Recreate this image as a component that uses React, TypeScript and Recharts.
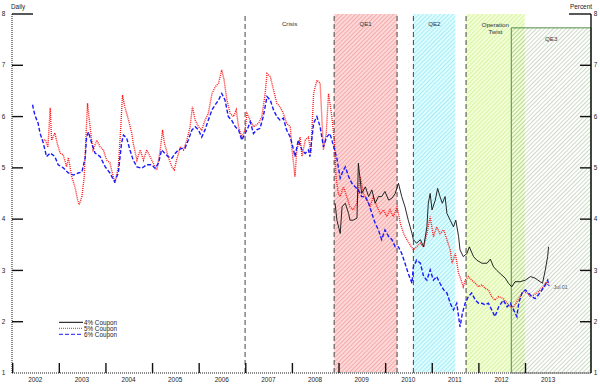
import React from 'react';
import {
  ComposedChart,
  Line,
  XAxis,
  YAxis,
  ReferenceArea,
  ReferenceLine,
  ReferenceDot,
} from 'recharts';

const FONT = '"Liberation Sans", Arial, sans-serif';

// axis setup (decimal years on x, percent on y)
const X_MIN = 2002;
const X_MAX = 2014.42;
const yearTicks = [2002, 2003, 2004, 2005, 2006, 2007, 2008, 2009, 2010, 2011, 2012, 2013];
const rateTicks = [1, 2, 3, 4, 5, 6, 7, 8];

// 6% coupon
const sixDates = [
  2002.44, 2002.49, 2002.56, 2002.6, 2002.67, 2002.74, 2002.82, 2002.92, 2002.99, 2003.1,
  2003.21, 2003.32, 2003.42, 2003.5, 2003.57, 2003.6, 2003.64, 2003.71, 2003.78, 2003.89,
  2004.0, 2004.1, 2004.2, 2004.28, 2004.35, 2004.39, 2004.46, 2004.53, 2004.6, 2004.68,
  2004.78, 2004.89, 2005.0, 2005.07, 2005.14, 2005.21, 2005.28, 2005.35, 2005.43, 2005.5,
  2005.57, 2005.64, 2005.71, 2005.78, 2005.86, 2005.93, 2006.0, 2006.07, 2006.14, 2006.21,
  2006.29, 2006.36, 2006.43, 2006.5, 2006.57, 2006.64, 2006.71, 2006.79, 2006.86, 2006.93,
  2007.0, 2007.07, 2007.11, 2007.18, 2007.25, 2007.32, 2007.39, 2007.47, 2007.54, 2007.61,
  2007.68, 2007.75, 2007.82, 2007.89, 2007.97, 2008.04, 2008.07, 2008.14, 2008.22, 2008.29,
  2008.36, 2008.39, 2008.47, 2008.54, 2008.61, 2008.68, 2008.75, 2008.82, 2008.89, 2008.97,
  2009.04, 2009.11, 2009.15, 2009.22, 2009.29, 2009.36, 2009.43, 2009.5, 2009.58, 2009.65,
  2009.72, 2009.79, 2009.86, 2009.93, 2010.0, 2010.08, 2010.15, 2010.22, 2010.29, 2010.36,
  2010.43, 2010.5, 2010.58, 2010.61, 2010.68, 2010.76, 2010.83, 2010.9, 2010.97, 2011.04,
  2011.11, 2011.18, 2011.26, 2011.33, 2011.4, 2011.47, 2011.54, 2011.61, 2011.66, 2011.72,
  2011.79, 2011.86, 2011.94, 2012.01, 2012.08, 2012.15, 2012.22, 2012.29, 2012.36, 2012.44,
  2012.54, 2012.62, 2012.69, 2012.76, 2012.83, 2012.87, 2012.94, 2013.01, 2013.08, 2013.15,
  2013.22, 2013.29, 2013.37, 2013.44, 2013.49, 2013.52,
];
const sixRates = [
  6.23, 6.03, 5.87, 5.68, 5.49, 5.22, 5.29, 5.22, 5.06, 5.0,
  4.9, 4.86, 4.9, 4.92, 5.2, 5.6, 5.7, 5.48, 5.29, 5.22,
  5.02, 4.9, 4.73, 4.9, 5.48, 5.64, 5.58, 5.35, 5.15, 5.02,
  4.99, 5.06, 5.06, 4.99, 5.09, 5.35, 5.28, 5.22, 5.19, 5.28,
  5.35, 5.38, 5.38, 5.54, 5.74, 5.8, 5.74, 5.6, 5.74, 5.93,
  6.13, 6.23, 6.32, 6.45, 6.32, 6.0, 5.93, 5.8, 5.74, 5.54,
  5.67, 5.8, 5.9, 5.67, 5.74, 5.77, 6.0, 6.39, 6.32, 6.13,
  6.0, 5.93, 5.97, 5.74, 5.6, 5.35, 5.22, 5.54, 5.35, 5.28,
  5.35, 5.22, 5.87, 6.0, 5.8, 5.41, 5.6, 5.67, 5.45, 5.18,
  4.8, 4.96, 5.02, 4.83, 4.7, 4.63, 4.57, 4.44, 4.44, 4.31,
  4.11, 3.92, 3.79, 3.6, 3.79, 3.66, 3.6, 3.46, 3.46, 3.33,
  3.14, 2.94, 2.75, 3.07, 3.2, 3.14, 2.88, 2.81, 3.01, 2.81,
  2.88, 2.75, 2.62, 2.56, 2.36, 2.23, 2.36, 1.9, 2.16, 2.36,
  2.49, 2.56, 2.42, 2.36, 2.36, 2.33, 2.36, 2.23, 2.1, 2.29,
  2.42, 2.29, 2.36, 2.23, 2.1, 2.36, 2.56, 2.62, 2.56, 2.49,
  2.45, 2.52, 2.62, 2.72, 2.81, 2.7,
];

// 5% coupon
const fiveDates = [
  2002.64, 2002.72, 2002.77, 2002.82, 2002.85, 2002.92, 2002.97, 2003.03, 2003.1, 2003.17,
  2003.21, 2003.28, 2003.35, 2003.41, 2003.44, 2003.5, 2003.55, 2003.59, 2003.62, 2003.65,
  2003.7, 2003.74, 2003.82, 2003.89, 2003.96, 2004.03, 2004.1, 2004.17, 2004.21, 2004.28,
  2004.33, 2004.37, 2004.42, 2004.5, 2004.57, 2004.6, 2004.68, 2004.75, 2004.82, 2004.89,
  2004.96, 2005.03, 2005.11, 2005.18, 2005.23, 2005.27, 2005.35, 2005.43, 2005.48, 2005.53,
  2005.61, 2005.68, 2005.75, 2005.82, 2005.87, 2005.93, 2006.0, 2006.07, 2006.14, 2006.21,
  2006.29, 2006.36, 2006.43, 2006.5, 2006.55, 2006.61, 2006.68, 2006.75, 2006.81, 2006.86,
  2006.93, 2007.0, 2007.04, 2007.11, 2007.18, 2007.29, 2007.36, 2007.43, 2007.47, 2007.54,
  2007.61, 2007.68, 2007.75, 2007.82, 2007.89, 2007.97, 2008.0, 2008.07, 2008.11, 2008.18,
  2008.22, 2008.29, 2008.36, 2008.41, 2008.47, 2008.54, 2008.61, 2008.68, 2008.74, 2008.79,
  2008.86, 2008.92, 2008.95, 2009.0, 2009.04, 2009.11, 2009.18, 2009.25, 2009.32, 2009.4,
  2009.47, 2009.54, 2009.61, 2009.68, 2009.75, 2009.83, 2009.9, 2009.97, 2010.04, 2010.11,
  2010.18, 2010.26, 2010.33, 2010.4, 2010.47, 2010.54, 2010.61, 2010.68, 2010.76, 2010.83,
  2010.9, 2010.97, 2011.04, 2011.11, 2011.18, 2011.26, 2011.33, 2011.4, 2011.44, 2011.51,
  2011.58, 2011.61, 2011.68, 2011.72, 2011.79, 2011.86, 2011.94, 2012.01, 2012.08, 2012.15,
  2012.22, 2012.29, 2012.36, 2012.44, 2012.54, 2012.62, 2012.69, 2012.76, 2012.83, 2012.9,
  2012.97, 2013.05, 2013.12, 2013.19, 2013.26, 2013.33, 2013.4, 2013.47, 2013.51,
];
const fiveRates = [
  5.55, 5.54, 5.4, 6.17, 5.54, 5.68, 5.48, 5.29, 5.25, 5.02,
  5.2, 4.83, 4.63, 4.37, 4.28, 4.44, 4.83, 5.67, 6.26, 6.0,
  5.6, 5.35, 5.54, 5.41, 5.35, 5.15, 5.1, 4.83, 4.7, 5.02,
  5.74, 6.42, 6.19, 5.93, 5.67, 5.48, 5.15, 5.35, 5.15, 5.35,
  5.22, 5.09, 4.96, 5.35, 5.74, 5.48, 5.22, 5.02, 4.96, 5.15,
  5.41, 5.35, 5.54, 5.8, 6.19, 5.93, 5.8, 5.74, 5.93, 6.06,
  6.45, 6.58, 6.65, 6.91, 6.71, 6.32, 6.06, 6.0, 6.13, 5.8,
  5.6, 5.74, 6.06, 5.93, 5.8, 5.87, 6.0, 6.45, 6.84, 6.78,
  6.52, 6.26, 6.19, 6.06, 5.87, 5.8, 5.41, 4.83, 5.35, 5.6,
  5.22, 5.54, 5.6, 5.28, 6.45, 6.71, 6.65, 5.35, 5.67, 6.45,
  6.0, 5.48, 4.83, 4.5, 4.44, 4.63, 4.44, 4.24, 4.18, 4.31,
  4.83, 4.5, 4.37, 4.24, 4.44, 4.24, 4.11, 4.18, 4.05, 4.18,
  4.05, 4.24, 3.92, 3.72, 3.6, 3.5, 3.4, 3.46, 3.53, 3.46,
  3.72, 4.05, 3.66, 3.85, 3.72, 3.79, 3.6, 3.4, 3.14, 3.33,
  2.94, 2.88, 2.68, 2.81, 2.88, 2.81, 2.75, 2.68, 2.72, 2.65,
  2.62, 2.49, 2.42, 2.49, 2.45, 2.36, 2.29, 2.29, 2.39, 2.49,
  2.59, 2.56, 2.49, 2.52, 2.56, 2.62, 2.68, 2.78, 2.7,
];

// 4% coupon
const fourDates = [
  2008.93, 2008.97, 2009.04, 2009.08, 2009.15, 2009.22, 2009.25, 2009.32, 2009.4, 2009.43,
  2009.5, 2009.58, 2009.65, 2009.72, 2009.79, 2009.86, 2009.93, 2010.0, 2010.08, 2010.15,
  2010.22, 2010.29, 2010.36, 2010.43, 2010.5, 2010.58, 2010.61, 2010.68, 2010.76, 2010.83,
  2010.9, 2010.93, 2010.97, 2011.01, 2011.08, 2011.13, 2011.18, 2011.23, 2011.29, 2011.33,
  2011.4, 2011.47, 2011.52, 2011.58, 2011.61, 2011.68, 2011.76, 2011.81, 2011.9, 2011.97,
  2012.08, 2012.19, 2012.26, 2012.33, 2012.4, 2012.47, 2012.58, 2012.65, 2012.72, 2012.79,
  2012.9, 2013.01, 2013.12, 2013.22, 2013.33, 2013.38, 2013.44, 2013.49, 2013.51,
];
const fourRates = [
  4.31, 3.98, 3.72, 4.24, 4.31, 4.11, 3.98, 3.98, 4.02, 5.09,
  4.5, 4.63, 4.44, 4.57, 4.31, 4.44, 4.44, 4.54, 4.37, 4.41,
  4.5, 4.7, 4.44, 4.24, 3.98, 3.72, 3.6, 3.53, 3.6, 3.46,
  3.85, 4.31, 4.5, 4.18, 4.37, 4.6, 4.44, 4.31, 4.44, 4.11,
  3.98, 3.85, 3.98, 3.66, 3.4, 3.27, 3.33, 3.46, 3.27, 3.2,
  3.14, 3.14, 3.22, 3.07, 3.0, 2.94, 2.85, 2.75, 2.68, 2.78,
  2.78, 2.81, 2.88, 2.85, 2.78, 2.75, 3.01, 3.27, 3.46,
];

// policy episodes (decimal years)
const crisisStart = 2007.0;
const qe1 = [2008.91, 2010.26];
const qe2 = [2010.61, 2011.51];
const twist = [2011.74, 2013.0];
const qe3 = [2012.71, X_MAX];
const qe3Top = 7.73;
const lastDate = 2013.51;
const lastLabelRate = 2.68;

const toPoints = (dates: number[], rates: number[]) =>
  dates.map((t, i) => ({ t, v: rates[i] }));

const fourData = toPoints(fourDates, fourRates);
const fiveData = toPoints(fiveDates, fiveRates);
const sixData = toPoints(sixDates, sixRates);

const W = 600;
const H = 384;
const M_TOP = 14;
const LEFT_W = 12;
const RIGHT_W = 9;
const X_AXIS_H = 11;
const HALF_YEAR_PX = (W - LEFT_W - RIGHT_W) / (X_MAX - X_MIN) / 2;

const YearTick = ({ x, y, payload }: any) => (
  <g>
    <line x1={x + 0.7} y1={y} x2={x + 0.7} y2={y - 10} stroke="#111" strokeWidth={1.4} />
    <text
      x={x + HALF_YEAR_PX}
      y={y + 9}
      textAnchor="middle"
      fontSize={6.4}
      fontFamily={FONT}
      fill="#222"
    >
      {payload.value}
    </text>
  </g>
);

const LeftTick = ({ x, y, payload }: any) => (
  <g>
    {payload.value !== 1 && (
      <line x1={x} y1={y} x2={x + (payload.value === 8 ? 21 : 11)} y2={y} stroke="#111" strokeWidth={1.4} />
    )}
    <text x={x - 8.5} y={y} dy={2.2} textAnchor="middle" fontSize={6.4} fontFamily={FONT} fill="#222">
      {payload.value}
    </text>
  </g>
);

const RightTick = ({ x, y, payload }: any) => (
  <g>
    {payload.value !== 1 && (
      <line x1={x - (payload.value === 8 ? 22 : 11)} y1={y} x2={x} y2={y} stroke="#111" strokeWidth={1.4} />
    )}
    <text x={x + 4.5} y={y} dy={2.2} textAnchor="middle" fontSize={6.4} fontFamily={FONT} fill="#222">
      {payload.value}
    </text>
  </g>
);

const regionLabel = (lines: string[], dy: number) => (props: any) => {
  const { x, y, width } = props.viewBox;
  const cx = x + width / 2;
  return (
    <text x={cx} y={y + dy} textAnchor="middle" fontSize={6.2} fontFamily={FONT} fill="#333">
      {lines.map((l, i) => (
        <tspan key={l} x={cx} dy={i === 0 ? 0 : 7}>
          {l}
        </tspan>
      ))}
    </text>
  );
};

const hatch = (id: string, bg: string, line: string) => (
  <pattern id={id} width="3" height="3" patternUnits="userSpaceOnUse" patternTransform="rotate(45)">
    <rect width="3" height="3" fill={bg} />
    <line x1="0" y1="0" x2="0" y2="3" stroke={line} strokeWidth="1.2" />
  </pattern>
);

const legendItems = [
  { name: '4% Coupon', color: '#000000', dash: undefined },
  { name: '5% Coupon', color: '#ff1a1a', dash: '1 1' },
  { name: '6% Coupon', color: '#1a1aff', dash: '4 2' },
];

const App: React.FC = () => {
  const dashed = { stroke: '#444', strokeDasharray: '5 3', strokeWidth: 1 };

  return (
    <div style={{ position: 'relative', width: W, height: H, background: '#fff' }}>
      <style>{'body{margin:0}'}</style>
      <ComposedChart width={W} height={H} margin={{ top: M_TOP, right: 0, bottom: 0, left: 0 }}>
        <defs>
          {hatch('hQE1', '#fcd9d9', '#f28b8b')}
          {hatch('hQE2', '#dffcff', '#82e4ef')}
          {hatch('hTwist', '#f3ffd8', '#c8ec80')}
          <pattern id="hQE3" width="3" height="3" patternUnits="userSpaceOnUse" patternTransform="rotate(45)">
            <line x1="0" y1="0" x2="0" y2="3" stroke="#a3bb98" strokeWidth="1.1" />
          </pattern>
        </defs>

        <XAxis
          dataKey="t"
          type="number"
          domain={[X_MIN, X_MAX]}
          ticks={yearTicks}
          interval={0}
          height={X_AXIS_H}
          tickSize={0}
          tickMargin={0}
          tickLine={false}
          tick={<YearTick />}
          axisLine={{ stroke: '#8a8a8a', strokeWidth: 2, strokeDasharray: '1 1' }}
          allowDataOverflow
        />
        <YAxis
          yAxisId="left"
          orientation="left"
          width={LEFT_W}
          domain={[1, 8]}
          ticks={rateTicks}
          interval={0}
          tickSize={0}
          tickMargin={0}
          tickLine={false}
          tick={<LeftTick />}
          axisLine={{ stroke: '#8a8a8a', strokeWidth: 2, strokeDasharray: '1 1' }}
          allowDataOverflow
        />
        <YAxis
          yAxisId="right"
          orientation="right"
          width={RIGHT_W}
          domain={[1, 8]}
          ticks={rateTicks}
          interval={0}
          tickSize={0}
          tickMargin={0}
          tickLine={false}
          tick={<RightTick />}
          axisLine={{ stroke: '#111', strokeWidth: 1.4 }}
          allowDataOverflow
        />

        <ReferenceArea
          yAxisId="left"
          x1={crisisStart}
          x2={qe1[0]}
          y1={1}
          y2={8}
          fill="none"
          stroke="none"
          label={regionLabel(['Crisis'], 12)}
        />
        <ReferenceArea yAxisId="left" x1={qe1[0]} x2={qe1[1]} y1={1} y2={8} fill="url(#hQE1)" fillOpacity={1} label={regionLabel(['QE1'], 12)} />
        <ReferenceArea yAxisId="left" x1={qe2[0]} x2={qe2[1]} y1={1} y2={8} fill="url(#hQE2)" fillOpacity={1} label={regionLabel(['QE2'], 12)} />
        <ReferenceArea
          yAxisId="left"
          x1={twist[0]}
          x2={twist[1]}
          y1={1}
          y2={8}
          fill="url(#hTwist)"
          fillOpacity={1}
          label={regionLabel(['Operation', 'Twist'], 13)}
        />
        <ReferenceArea
          yAxisId="left"
          x1={qe3[0]}
          x2={qe3[1]}
          y1={1}
          y2={qe3Top}
          fill="url(#hQE3)"
          fillOpacity={1}
          stroke="#4f8f45"
          strokeWidth={1}
          label={regionLabel(['QE3'], 13)}
        />

        <ReferenceLine yAxisId="left" x={crisisStart} {...dashed} />
        <ReferenceLine yAxisId="left" x={qe1[0]} {...dashed} />
        <ReferenceLine yAxisId="left" x={qe1[1]} {...dashed} />
        <ReferenceLine yAxisId="left" x={qe2[0]} {...dashed} />
        <ReferenceLine yAxisId="left" x={twist[0]} {...dashed} />

        <Line
          yAxisId="left"
          data={fiveData}
          dataKey="v"
          type="linear"
          stroke="#ff1a1a"
          strokeWidth={1.4}
          strokeDasharray="1 1"
          dot={false}
          isAnimationActive={false}
        />
        <Line
          yAxisId="left"
          data={sixData}
          dataKey="v"
          type="linear"
          stroke="#1a1aff"
          strokeWidth={1.4}
          strokeDasharray="4 2"
          dot={false}
          isAnimationActive={false}
        />
        <Line
          yAxisId="left"
          data={fourData}
          dataKey="v"
          type="linear"
          stroke="#111"
          strokeWidth={0.9}
          dot={false}
          isAnimationActive={false}
        />

        <ReferenceDot
          yAxisId="left"
          x={lastDate}
          y={lastLabelRate}
          r={0}
          fill="none"
          stroke="none"
          label={{ value: 'Jul 01', position: 'right', offset: 5, fontSize: 5.3, fill: '#555', fontFamily: FONT }}
        />
      </ComposedChart>

      <svg
        width={W}
        height={H}
        style={{ position: 'absolute', left: 0, top: 0, pointerEvents: 'none' }}
        fontFamily={FONT}
      >
        <text x={11} y={9} fontSize={6.4} fill="#222">
          Daily
        </text>
        <text x={592} y={9} fontSize={6.4} fill="#222" textAnchor="end">
          Percent
        </text>
        {legendItems.map((item, i) => (
          <g key={item.name}>
            <line
              x1={59}
              x2={83}
              y1={322.3 + i * 6}
              y2={322.3 + i * 6}
              stroke={item.color}
              strokeWidth={1}
              strokeDasharray={item.dash}
            />
            <text x={84} y={322.3 + i * 6} dy={2.2} fontSize={6.3} fill="#222">
              {item.name}
            </text>
          </g>
        ))}
      </svg>
    </div>
  );
};

export default App;
